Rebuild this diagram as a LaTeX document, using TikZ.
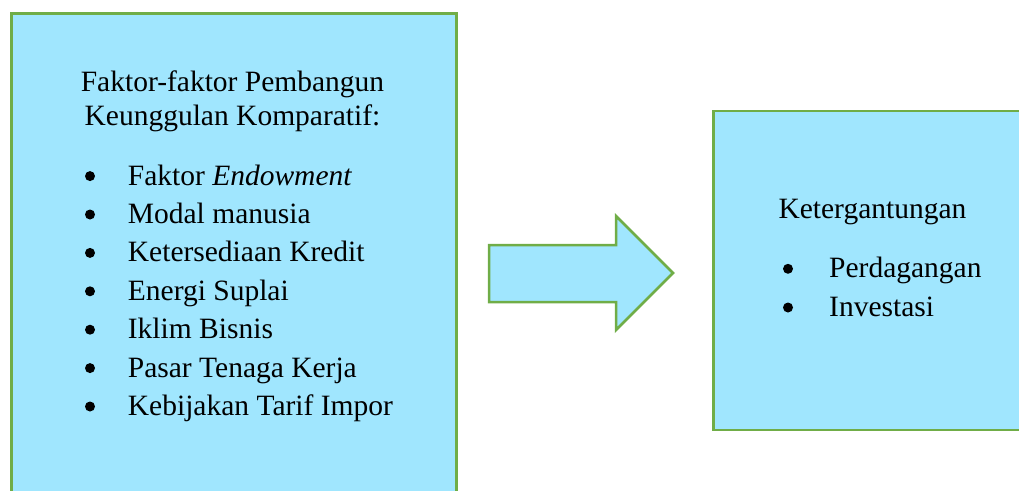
\documentclass[tikz,border=0pt]{standalone}
\usepackage{fontspec}
\setmainfont{Liberation Serif}
\definecolor{boxfill}{RGB}{160,230,254}
\definecolor{boxline}{RGB}{112,173,71}
\begin{document}
\begin{tikzpicture}[x=1pt,y=-1pt,
  panel/.style={draw=boxline,fill=boxfill,line width=2.5pt},
  txt/.style={inner sep=0pt,anchor=base west,font=\fontsize{29.5}{34}\selectfont},
  ctxt/.style={inner sep=0pt,anchor=base,font=\fontsize{29.5}{34}\selectfont},
  dot/.style={circle,fill=black,inner sep=0pt,minimum size=10pt}]
\useasboundingbox (0,0) rectangle (1019,490);
\clip (0,0) rectangle (1019,490);
% left box
\node[panel,anchor=north west,minimum width=445pt,minimum height=500pt,inner sep=0pt] (left) at (10,12) {};
\node[ctxt] (h1) at (232.5,91.7) {Faktor-faktor Pembangun};
\node[ctxt] (h2) at (232.5,125.7) {Keunggulan Komparatif:};
\foreach \t [count=\i] in {Faktor \textit{Endowment},Modal manusia,Ketersediaan Kredit,Energi Suplai,Iklim Bisnis,Pasar Tenaga Kerja,Kebijakan Tarif Impor}{
  \node[dot] (b\i) at (90,{185.1+38.4*(\i-1)-9}) {};
  \node[txt] (l\i) at (127.7,{185.1+38.4*(\i-1)}) {\t};
}
% arrow
\coordinate (a1) at (489,245);
\coordinate (a2) at (616,245);
\coordinate (a3) at (616,216);
\coordinate (a4) at (673,273);
\coordinate (a5) at (616,330);
\coordinate (a6) at (616,302);
\coordinate (a7) at (489,302);
\draw[panel,line join=miter] (a1) -- (a2) -- (a3) -- (a4) -- (a5) -- (a6) -- (a7) -- cycle;
% right box
\node[panel,anchor=north west,minimum width=330pt,minimum height=319pt,inner sep=0pt] (right) at (712,109.5) {};
\node[txt] (r0) at (778.3,218.3) {Ketergantungan};
\node[dot] (rb1) at (788,268.8) {};
\node[txt] (r1) at (829,277.3) {Perdagangan};
\node[dot] (rb2) at (788,307.5) {};
\node[txt] (r2) at (829,316) {Investasi};
\end{tikzpicture}
\end{document}
